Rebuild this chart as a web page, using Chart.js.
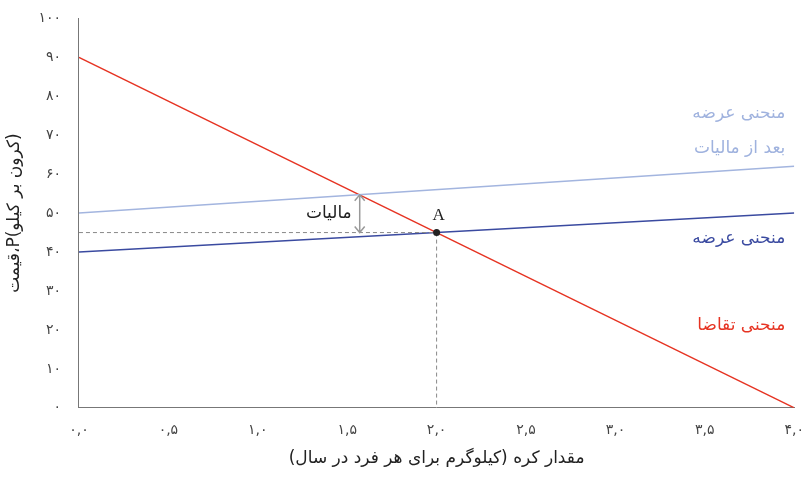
<!DOCTYPE html>
<html><head><meta charset="utf-8">
<script src="https://cdn.jsdelivr.net/npm/chart.js@4"></script>
<style>body{margin:0;background:#fff}#w{width:810px;height:479px}</style></head>
<body><div id="w"><canvas id="c"></canvas></div>
<script>
const xRange=[0,4];
const demand=[{x:0,y:90},{x:4,y:0}];
const supply=[{x:0,y:40},{x:4,y:50}];
const supplyTax=[{x:0,y:50},{x:4,y:62}];
const pointA={x:2,y:45};
const taxArrow={x:1.57,y0:45,y1:54.7};
const yTicks=[0,10,20,30,40,50,60,70,80,90,100];
const xTicks=[0,0.5,1,1.5,2,2.5,3,3.5,4];
const labels=[
 {t:'منحنی عرضه',x:3.95,y:75.5,c:'#9fb2de'},
 {t:'بعد از مالیات',x:3.95,y:66.5,c:'#9fb2de'},
 {t:'منحنی عرضه',x:3.95,y:43.5,c:'#3a4aa0'},
 {t:'منحنی تقاضا',x:3.95,y:21,c:'#e63322'},
];
const fa=s=>String(s).replace(/\d/g,d=>'۰۱۲۳۴۵۶۷۸۹'[d]);
const font='"DejaVu Sans", sans-serif';
const plug={id:'ann',afterDatasetsDraw(ch){
 const {ctx,scales:{x,y}}=ch;ctx.save();
 ctx.strokeStyle='#888';ctx.setLineDash([4,3]);ctx.lineWidth=1;
 ctx.beginPath();ctx.moveTo(x.getPixelForValue(0),y.getPixelForValue(pointA.y));ctx.lineTo(x.getPixelForValue(pointA.x),y.getPixelForValue(pointA.y));
 ctx.moveTo(x.getPixelForValue(pointA.x),y.getPixelForValue(pointA.y));ctx.lineTo(x.getPixelForValue(pointA.x),y.getPixelForValue(0));ctx.stroke();
 ctx.setLineDash([]);
 const ax=x.getPixelForValue(taxArrow.x),a0=y.getPixelForValue(taxArrow.y0),a1=y.getPixelForValue(taxArrow.y1);
 ctx.strokeStyle='#999';ctx.lineWidth=1.5;ctx.beginPath();ctx.moveTo(ax,a0);ctx.lineTo(ax,a1);
 ctx.moveTo(ax-5,a1+6);ctx.lineTo(ax,a1);ctx.lineTo(ax+5,a1+6);
 ctx.moveTo(ax-5,a0-6);ctx.lineTo(ax,a0);ctx.lineTo(ax+5,a0-6);ctx.stroke();
 ctx.fillStyle='#222';ctx.font='17px '+font;ctx.textAlign='right';ctx.textBaseline='middle';
 ctx.fillText('مالیات',ax-8,(a0+a1)/2);
 const px=x.getPixelForValue(pointA.x),py=y.getPixelForValue(pointA.y);
 ctx.beginPath();ctx.arc(px,py,3.5,0,7);ctx.fill();
 ctx.textAlign='center';ctx.font='17px "Liberation Serif", serif';ctx.fillText('A',px+2,py-17);
 ctx.font='17px '+font;ctx.textAlign='right';
 labels.forEach(l=>{ctx.fillStyle=l.c;ctx.fillText(l.t,x.getPixelForValue(l.x),y.getPixelForValue(l.y));});
 ctx.restore();}};
const ds=(d,c)=>({data:d,borderColor:c,borderWidth:1.5,pointRadius:0,fill:false,tension:0});
new Chart(document.getElementById('c'),{type:'line',
 data:{datasets:[ds(supplyTax,'#a3b5df'),ds(supply,'#3a4aa0'),ds(demand,'#e63322')]},
 options:{responsive:true,maintainAspectRatio:false,animation:false,
  layout:{padding:{top:4,right:14,left:0,bottom:6}},
  plugins:{legend:{display:false},tooltip:{enabled:false}},
  scales:{
   x:{type:'linear',min:xRange[0],max:xRange[1],
    afterBuildTicks:a=>{a.ticks=xTicks.map(v=>({value:v}));},
    grid:{display:false,drawTicks:true},border:{color:'#777'},
    ticks:{color:'#444',font:{family:font,size:14},padding:6,callback:v=>fa(v.toFixed(1).replace('.',','))},
    title:{display:true,text:'مقدار کره (کیلوگرم برای هر فرد در سال)',color:'#222',font:{family:font,size:17}}},
   y:{min:0,max:100,afterBuildTicks:a=>{a.ticks=yTicks.map(v=>({value:v}));},
    grid:{display:false},border:{color:'#777'},
    ticks:{color:'#444',font:{family:font,size:14},padding:10,callback:v=>fa(v)},
    title:{display:true,text:'قیمت،P(کرون بر کیلو)',color:'#222',font:{family:font,size:17}}}}},
 plugins:[plug]});
</script></body></html>
